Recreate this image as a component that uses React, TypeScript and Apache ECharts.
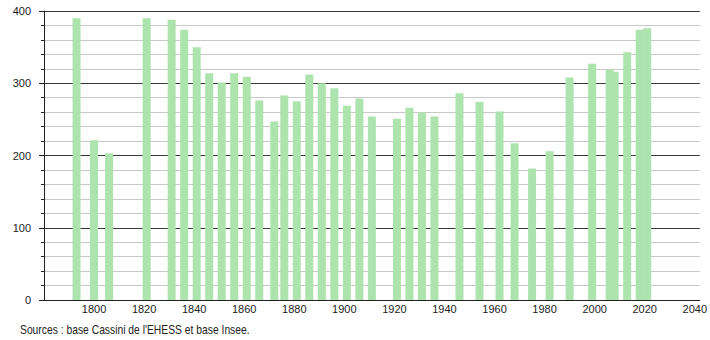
import React, { useEffect, useRef } from "react";
import * as echarts from "echarts";

const years = [1793, 1800, 1806, 1821, 1831, 1836, 1841, 1846, 1851, 1856, 1861, 1866, 1872, 1876, 1881, 1886, 1891, 1896, 1901, 1906, 1911, 1921, 1926, 1931, 1936, 1946, 1954, 1962, 1968, 1975, 1982, 1990, 1999, 2006, 2008, 2013, 2018, 2021];
const population = [390, 221, 203, 390, 388, 374, 350, 314, 301, 314, 309, 276, 247, 283, 275, 312, 300, 293, 269, 279, 254, 251, 266, 260, 254, 286, 274, 261, 217, 182, 206, 308, 327, 319, 316, 343, 374, 376];
const yTicks = [0, 100, 200, 300, 400];
const xTickLabels = [1800, 1820, 1840, 1860, 1880, 1900, 1920, 1940, 1960, 1980, 2000, 2020, 2040];
const sourceText = "Sources : base Cassini de l'EHESS et base Insee.";

const FONT = "'Liberation Sans', Arial, sans-serif";

export default function App() {
  const ref = useRef<HTMLDivElement>(null);
  useEffect(() => {
    document.body.style.margin = "0";
    const chart = echarts.init(ref.current!, null, { renderer: "svg" });
    chart.setOption({
      animation: false,
      grid: { left: 44, right: 9, top: 11, bottom: 40, containLabel: false },
      xAxis: {
        type: "value",
        min: 1780,
        max: 2042,
        interval: 20,
        axisLine: { show: true, lineStyle: { color: "#222", width: 1 } },
        axisTick: { show: false },
        splitLine: { show: false },
        axisLabel: {
          color: "#222",
          fontSize: 11,
          fontFamily: FONT,
          margin: 3,
          formatter: (v: number) => (xTickLabels.includes(v) ? String(v) : ""),
        },
      },
      yAxis: {
        type: "value",
        min: yTicks[0],
        max: yTicks[yTicks.length - 1],
        interval: 100,
        axisLine: { show: true, lineStyle: { color: "#222", width: 1 } },
        axisTick: { show: true, length: 5, lineStyle: { color: "#222" } },
        minorTick: { show: true, splitNumber: 5, length: 3, lineStyle: { color: "#222" } },
        splitLine: { show: true, lineStyle: { color: "#3a3a3a", width: 1 } },
        minorSplitLine: { show: true, lineStyle: { color: "#c8c8c8", width: 1 } },
        axisLabel: { color: "#222", fontSize: 11, fontFamily: FONT, margin: 13 },
      },
      series: [
        {
          type: "bar",
          data: years.map((y, i) => [y, population[i]]),
          barWidth: 8,
          itemStyle: { color: "#ade4ad" },
          silent: true,
        },
      ],
      graphic: [
        {
          type: "text",
          x: 20,
          y: 330,
          scaleX: 0.86,
          style: { text: sourceText, fontSize: 12, fontFamily: FONT, fill: "#222", verticalAlign: "middle" },
        },
      ],
    });
    return () => chart.dispose();
  }, []);
  return <div ref={ref} style={{ width: 710, height: 340 }} />;
}
